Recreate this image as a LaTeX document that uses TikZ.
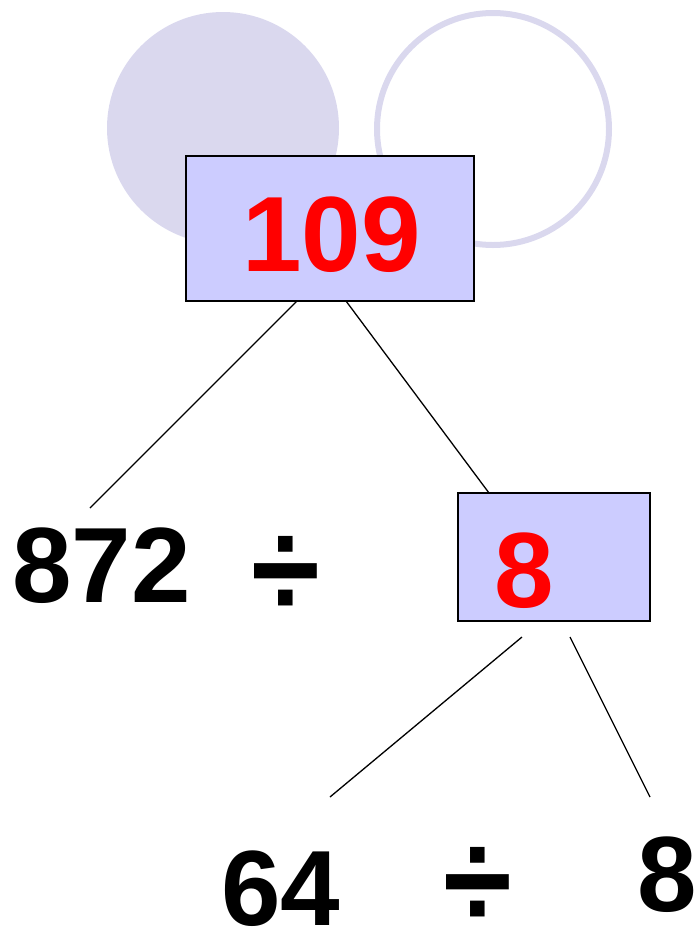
\documentclass[tikz,border=0pt]{standalone}
\usepackage{fontspec}
\setmainfont{Liberation Sans}
\definecolor{circ}{RGB}{218,216,238}
\definecolor{boxfill}{RGB}{204,204,255}
\definecolor{numred}{RGB}{255,0,0}
\begin{document}
\begin{tikzpicture}[x=1pt,y=-1pt,
  numbox/.style={draw=black,line width=2pt,fill=boxfill,inner sep=0pt,rectangle},
  bignum/.style={font=\fontsize{107}{107}\selectfont\bfseries,inner sep=0pt,anchor=base},
  conn/.style={draw=black,line width=1.3pt}]
\useasboundingbox (0,0) rectangle (698,930);
\fill[circ] (223,128) circle[radius=116];
\draw[circ,line width=6pt] (493,129) circle[radius=116];
\node[numbox,minimum width=288pt,minimum height=145pt] (b109) at (330,228.5) {};
\node[bignum,text=numred] (t109) at (331.5,271) {109};
\node[numbox,minimum width=192pt,minimum height=128pt] (b8) at (554,557) {};
\node[bignum,text=numred] (t8a) at (524,607) {8};
\node[bignum] (t872) at (101.5,602) {872};
\node[bignum] (d1) at (286,617) {\scalebox{1.17}[1.3]{÷}};
\node[bignum] (t64) at (281,925) {64};
\node[bignum] (d2) at (478,928) {\scalebox{1.17}[1.3]{÷}};
\node[bignum] (t8b) at (667,911) {8};
\coordinate (a1) at (297,301);
\coordinate (a2) at (346,301);
\coordinate (e1) at (90,508);
\coordinate (e2) at (489,493);
\coordinate (c1) at (522,637);
\coordinate (c2) at (570,637);
\coordinate (f1) at (330,797);
\coordinate (f2) at (650,797);
\draw[conn] (a1) -- (e1);
\draw[conn] (a2) -- (e2);
\draw[conn] (c1) -- (f1);
\draw[conn] (c2) -- (f2);
\end{tikzpicture}
\end{document}
